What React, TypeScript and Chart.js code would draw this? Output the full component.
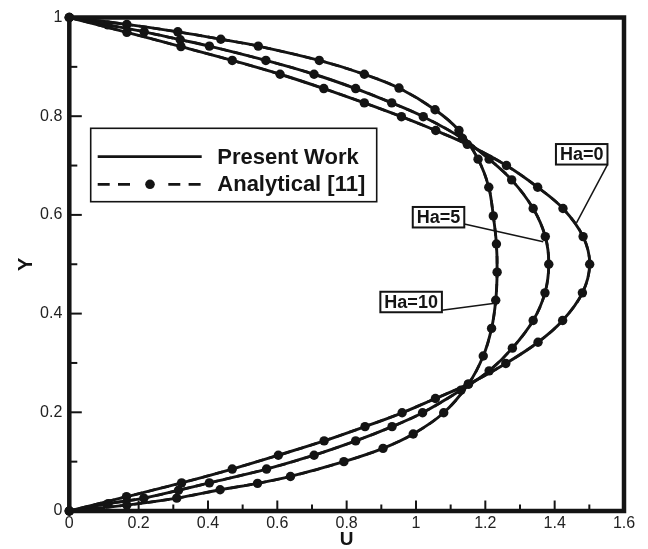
import React, { useEffect, useRef } from 'react';
import { Chart, registerables } from 'chart.js';

Chart.register(...registerables);

// Velocity profiles U(Y) across the channel for three Hartmann numbers
const ha0U = [0, 0.166, 0.322, 0.470, 0.608, 0.734, 0.851, 0.958, 1.057, 1.148, 1.261, 1.351, 1.424, 1.482, 1.501, 1.480, 1.423, 1.352, 1.259, 1.151, 1.056, 0.960, 0.853, 0.735, 0.603, 0.470, 0.324, 0.165, 0];
const ha0Y = [1, 0.970, 0.941, 0.913, 0.885, 0.856, 0.827, 0.799, 0.771, 0.743, 0.700, 0.656, 0.613, 0.556, 0.5, 0.442, 0.386, 0.342, 0.299, 0.257, 0.228, 0.199, 0.171, 0.142, 0.113, 0.085, 0.057, 0.029, 0];

const ha5U = [0, 0.111, 0.216, 0.320, 0.404, 0.567, 0.706, 0.826, 0.930, 1.021, 1.134, 1.211, 1.276, 1.338, 1.373, 1.383, 1.372, 1.338, 1.278, 1.211, 1.130, 1.019, 0.931, 0.826, 0.706, 0.569, 0.404, 0.315, 0.215, 0.112, 0];
const ha5Y = [1, 0.985, 0.971, 0.955, 0.942, 0.913, 0.885, 0.856, 0.827, 0.799, 0.755, 0.713, 0.671, 0.613, 0.556, 0.5, 0.442, 0.386, 0.330, 0.284, 0.245, 0.199, 0.171, 0.142, 0.113, 0.085, 0.057, 0.042, 0.026, 0.015, 0];

const ha10U = [0, 0.166, 0.313, 0.437, 0.545, 0.721, 0.851, 0.951, 1.055, 1.124, 1.179, 1.210, 1.223, 1.232, 1.234, 1.230, 1.218, 1.194, 1.151, 1.080, 0.992, 0.905, 0.792, 0.638, 0.543, 0.435, 0.310, 0.166, 0];
const ha10Y = [1, 0.986, 0.971, 0.956, 0.942, 0.913, 0.885, 0.857, 0.813, 0.771, 0.713, 0.656, 0.598, 0.541, 0.484, 0.427, 0.370, 0.314, 0.257, 0.199, 0.156, 0.127, 0.100, 0.070, 0.056, 0.043, 0.026, 0.012, 0];

const seriesNames = ['Ha=0', 'Ha=5', 'Ha=10'];
const legendLabels = ['Present Work', 'Analytical [11]'];

const xTickValues = [0, 0.2, 0.4, 0.6, 0.8, 1, 1.2, 1.4, 1.6];
const xTickLabels = ['0', '0.2', '0.4', '0.6', '0.8', '1', '1.2', '1.4', '1.6'];
const xMinorValues = [0.1, 0.3, 0.5, 0.7, 0.9, 1.1, 1.3, 1.5];
const yTickValues = [0, 0.2, 0.4, 0.6, 0.8, 1];
const yTickLabels = ['0', '0.2', '0.4', '0.6', '0.8', '1'];
const yMinorValues = [0.1, 0.3, 0.5, 0.7, 0.9];

const FONT = "'Liberation Sans', Arial, Helvetica, sans-serif";
const INK = '#141414';

// Callout boxes: centre of the box and the point on the curve the leader meets
const callouts = [
  { text: seriesNames[0], cu: 1.478, cy: 0.7228, tipU: 1.463, tipY: 0.584, fromBottom: 0 },
  { text: seriesNames[1], cu: 1.065, cy: 0.5953, tipU: 1.367, tipY: 0.5457, fromBottom: 3.5 },
  { text: seriesNames[2], cu: 0.986, cy: 0.4235, tipU: 1.2275, tipY: 0.4209, fromBottom: 2 },
];

const decorations = {
  id: 'decorations',
  afterDraw(chart: any) {
    const { ctx, chartArea: a, scales } = chart;
    const xs = scales.x;
    const ys = scales.y;
    ctx.save();

    // inward tick marks on the left and bottom axes
    ctx.strokeStyle = INK;
    ctx.lineWidth = 2;
    const seg = (x1: number, y1: number, x2: number, y2: number) => {
      ctx.beginPath();
      ctx.moveTo(x1, y1);
      ctx.lineTo(x2, y2);
      ctx.stroke();
    };
    xTickValues.forEach((v) => { const p = xs.getPixelForValue(v); seg(p, a.bottom, p, a.bottom - 10.5); });
    xMinorValues.forEach((v) => { const p = xs.getPixelForValue(v); seg(p, a.bottom, p, a.bottom - 6.5); });
    yTickValues.forEach((v) => { const p = ys.getPixelForValue(v); seg(a.left, p, a.left + 12.5, p); });
    yMinorValues.forEach((v) => { const p = ys.getPixelForValue(v); seg(a.left, p, a.left + 8, p); });

    // heavy frame
    ctx.lineWidth = 4.5;
    ctx.strokeRect(a.left, a.top, a.right - a.left, a.bottom - a.top);

    // legend
    const lx = a.left + 21.4;
    const ly = a.top + 110.8;
    const lw = 286;
    const lh = 73.4;
    ctx.fillStyle = '#fff';
    ctx.fillRect(lx, ly, lw, lh);
    ctx.lineWidth = 1.6;
    ctx.strokeRect(lx, ly, lw, lh);
    const row1 = ly + 28.4;
    const row2 = ly + 56;
    ctx.lineWidth = 2.8;
    seg(lx + 7, row1, lx + 111, row1);
    ctx.setLineDash([12, 8.3]);
    seg(lx + 7, row2, lx + 40, row2);
    seg(lx + 77.6, row2, lx + 111, row2);
    ctx.setLineDash([]);
    ctx.fillStyle = INK;
    ctx.beginPath();
    ctx.arc(lx + 59.3, row2, 4.8, 0, Math.PI * 2);
    ctx.fill();
    ctx.font = `bold 22px ${FONT}`;
    ctx.textAlign = 'left';
    ctx.textBaseline = 'middle';
    ctx.fillText(legendLabels[0], lx + 126.6, row1 + 1);
    ctx.fillText(legendLabels[1], lx + 126.6, row2 + 1);

    // callouts
    ctx.font = `bold 18px ${FONT}`;
    ctx.textAlign = 'center';
    callouts.forEach((c) => {
      const cx = xs.getPixelForValue(c.cu);
      const cy = ys.getPixelForValue(c.cy);
      const w = ctx.measureText(c.text).width + 8;
      const h = 20.5;
      const bx = cx - w / 2;
      const by = cy - h / 2;
      ctx.strokeStyle = INK;
      ctx.lineWidth = 1.5;
      seg(bx + w, by + h - c.fromBottom, xs.getPixelForValue(c.tipU), ys.getPixelForValue(c.tipY));
      ctx.fillStyle = '#fff';
      ctx.fillRect(bx, by, w, h);
      ctx.lineWidth = 2;
      ctx.strokeRect(bx, by, w, h);
      ctx.fillStyle = INK;
      ctx.fillText(c.text, cx, cy + 1);
    });

    ctx.restore();
  },
};

export default function App() {
  const ref = useRef<HTMLCanvasElement>(null);

  useEffect(() => {
    const canvas = ref.current;
    if (!canvas) return;
    const profiles = [
      { u: ha0U, y: ha0Y },
      { u: ha5U, y: ha5Y },
      { u: ha10U, y: ha10Y },
    ];
    const datasets: any[] = [];
    profiles.forEach((p, k) => {
      const pts = p.u.map((u, i) => ({ x: u, y: p.y[i] }));
      datasets.push({
        label: `${legendLabels[0]} ${seriesNames[k]}`,
        data: pts,
        showLine: true,
        borderColor: INK,
        borderWidth: 2.9,
        tension: 0.35,
        pointRadius: 0,
        clip: false,
      });
      datasets.push({
        label: `${legendLabels[1]} ${seriesNames[k]}`,
        data: pts,
        showLine: true,
        borderColor: INK,
        borderWidth: 2.6,
        borderDash: [8, 6],
        tension: 0.35,
        pointRadius: 4.7,
        pointBackgroundColor: INK,
        pointBorderWidth: 0,
        clip: false,
      });
    });

    const chart = new Chart(canvas, {
      type: 'scatter',
      data: { datasets },
      options: {
        animation: false,
        responsive: false,
        events: [],
        layout: { padding: { top: 17.5, right: 24, left: 0, bottom: 0 } },
        plugins: { legend: { display: false }, tooltip: { enabled: false } },
        scales: {
          x: {
            type: 'linear',
            min: 0,
            max: 1.6,
            grid: { display: false, drawTicks: false },
            border: { display: false },
            afterBuildTicks: (s: any) => { s.ticks = xTickValues.map((v) => ({ value: v })); },
            afterFit: (s: any) => { s.height = 38; },
            ticks: {
              padding: 3,
              color: '#222',
              font: { family: FONT, size: 16 },
              maxRotation: 0,
              autoSkip: false,
              callback: (_v: any, i: number) => xTickLabels[i],
            },
            title: {
              display: true,
              text: 'U',
              color: INK,
              font: { family: FONT, size: 19, weight: 'bold', lineHeight: 1 },
              padding: { top: 0, bottom: 0 },
            },
          },
          y: {
            type: 'linear',
            min: 0,
            max: 1,
            grid: { display: false, drawTicks: false },
            border: { display: false },
            afterBuildTicks: (s: any) => { s.ticks = yTickValues.map((v) => ({ value: v })); },
            afterFit: (s: any) => { s.width = 69.3; },
            ticks: {
              padding: 7,
              color: '#222',
              font: { family: FONT, size: 16 },
              autoSkip: false,
              callback: (_v: any, i: number) => yTickLabels[i],
            },
            title: {
              display: true,
              text: 'Y',
              color: INK,
              font: { family: FONT, size: 20, weight: 'bold', lineHeight: 1 },
              padding: { top: 16, bottom: 0 },
            },
          },
        },
      },
      plugins: [decorations],
    } as any);

    return () => chart.destroy();
  }, []);

  return (
    <div style={{ position: 'absolute', left: 0, top: 0, width: 648, height: 549, background: '#fff' }}>
      <canvas ref={ref} width={648} height={549} style={{ display: 'block' }} />
    </div>
  );
}
